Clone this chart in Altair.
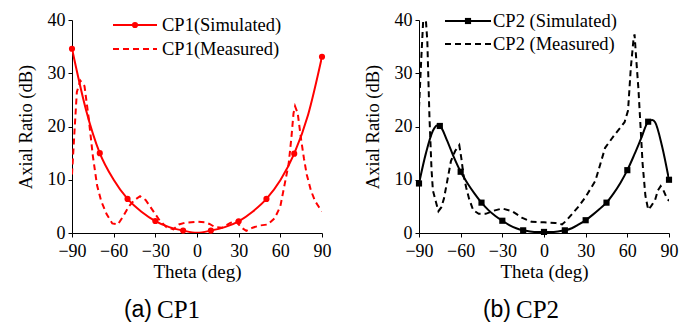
import altair as alt
import pandas as pd

# ---------------- data ----------------
# CP1 simulated (smooth solid line) and its circle markers
cp1_sim_theta = [-90, -80, -70, -60, -50, -40, -30, -20, -10, 0, 10, 20, 30, 40, 50, 60, 70, 80, 90]
cp1_sim_val = [34.6, 23.2, 15.0, 10.0, 6.4, 4.0, 2.25, 1.1, 0.45, 0.05, 0.45, 1.1, 2.2, 4.0, 6.4, 9.9, 14.9, 22.2, 33.1]
cp1_mk_theta = [-90, -70, -50, -30, -10, 10, 30, 50, 70, 90]
cp1_mk_val = [34.6, 15.0, 6.4, 2.25, 0.45, 0.45, 2.2, 6.4, 14.9, 33.1]

# CP1 measured (dashed)
cp1_meas_theta = [-90, -88, -86.5, -84, -81, -78, -75, -72, -69, -65, -61, -57, -53, -49, -45, -41, -37, -32,
                  -27, -22, -17, -13, -9, -4, 1, 6, 9, 13, 18, 24, 28, 32, 35.5, 40, 45, 51, 56, 60, 63, 66,
                  68, 69.5, 70.6, 72.5, 75, 77, 79, 82, 85, 88, 90]
cp1_meas_val = [11.0, 20.0, 26.5, 28.6, 27.6, 21.6, 14.5, 9.0, 6.0, 3.5, 1.8, 1.6, 3.2, 5.0, 6.2, 6.9, 6.2, 4.3,
                2.4, 1.1, 0.7, 1.6, 1.9, 2.0, 2.1, 2.0, 1.7, 1.1, 1.0, 1.9, 2.2, 1.0, 0.4, 1.0, 1.4, 1.6, 2.8, 5.0,
                9.0, 13.0, 18.0, 22.5, 23.8, 22.5, 17.5, 14.0, 11.0, 8.0, 6.0, 4.8, 4.1]

# CP2 simulated (smooth solid line) and its square markers
cp2_sim_theta = [-90, -85, -80, -77, -75, -70, -65, -60, -55, -50, -45, -40, -35, -30, -25, -20, -15, -10, -5,
                 0, 5, 10, 15, 20, 25, 30, 35, 40, 45, 50, 55, 60, 65, 70, 75, 78, 80, 85, 90]
cp2_sim_val = [9.3, 15.0, 19.2, 20.2, 20.1, 17.5, 14.3, 11.5, 9.3, 7.4, 5.7, 4.3, 3.2, 2.3, 1.5, 0.9, 0.5, 0.3,
               0.2, 0.2, 0.2, 0.3, 0.5, 0.9, 1.6, 2.4, 3.4, 4.5, 5.7, 7.4, 9.4, 11.8, 14.7, 17.8, 20.9, 21.2,
               20.8, 16.3, 10.0]
cp2_mk_theta = [-90, -75, -60, -45, -30, -15, 0, 15, 30, 45, 60, 75, 90]
cp2_mk_val = [9.3, 20.1, 11.5, 5.7, 2.3, 0.5, 0.2, 0.5, 2.4, 5.7, 11.8, 20.9, 10.0]

# CP2 measured (dashed)
cp2_meas_theta = [-90, -88.5, -87, -85, -84, -82.5, -81, -80, -78, -76, -74, -72, -69.5, -67, -64, -61, -59.5,
                  -58, -56, -54, -51, -47, -42, -36, -30, -23, -16, -9, 0, 8, 13, 16, 20, 25, 30, 37, 44, 51,
                  58, 60.5, 62.5, 64.5, 65.2, 66.5, 68, 69.5, 71, 73, 75, 77, 80, 82, 84, 86, 88, 90]
cp2_meas_val = [23.5, 32.0, 39.8, 39.8, 36.0, 22.0, 12.0, 8.0, 6.0, 4.1, 4.8, 6.5, 10.0, 13.5, 15.4, 16.5, 14.0,
                11.0, 8.5, 6.5, 4.3, 3.6, 3.6, 4.2, 4.6, 4.1, 2.9, 2.1, 2.0, 1.9, 1.6, 2.3, 3.5, 5.0, 6.8, 9.8,
                16.0, 18.5, 20.8, 23.0, 31.0, 36.5, 37.3, 32.3, 27.0, 20.0, 13.0, 7.0, 4.4, 5.0, 6.2, 8.0, 8.8,
                8.0, 6.8, 6.0]

x_ticks = list(range(-90, 91, 15))
y_ticks = list(range(0, 41, 5))

SERIF = "Liberation Serif"
SANS = "Liberation Sans"
W, H = 250, 213


def panel(color, shape, sim_t, sim_v, mk_t, mk_v, meas_t, meas_v, labels, leg, cap_letter, cap_name, cap_x):
    xs = alt.Scale(domain=[-90, 90], nice=False, zero=False)
    ys = alt.Scale(domain=[0, 40], nice=False)
    x_axis = alt.Axis(values=x_ticks, labelExpr="datum.value % 30 === 0 ? datum.label : ''",
                      title="Theta (deg)", grid=False, domainColor="black", tickColor="black",
                      tickSize=4, labelFont=SERIF, labelFontSize=18, labelColor="black",
                      titleFont=SERIF, titleFontSize=19, titleFontWeight="normal", titleColor="black",
                      labelPadding=5, titlePadding=2, labelFlush=False, labelOverlap=False)
    y_axis = alt.Axis(values=y_ticks, labelExpr="datum.value % 10 === 0 ? datum.label : ''",
                      title="Axial Ratio (dB)", grid=False, domainColor="black", tickColor="black",
                      tickSize=4, labelFont=SERIF, labelFontSize=18, labelColor="black",
                      titleFont=SERIF, titleFontSize=18.5, titleFontWeight="normal", titleColor="black",
                      labelPadding=3, titlePadding=12, labelFlush=False, labelOverlap=False)

    sim_df = pd.DataFrame({"theta": sim_t, "ar": sim_v})
    mk_df = pd.DataFrame({"theta": mk_t, "ar": mk_v})
    meas_df = pd.DataFrame({"theta": meas_t, "ar": meas_v})

    sim = alt.Chart(sim_df).mark_line(color=color, strokeWidth=2, interpolate="monotone", clip=True).encode(
        x=alt.X("theta:Q", scale=xs, axis=x_axis),
        y=alt.Y("ar:Q", scale=ys, axis=y_axis),
    )
    mk = alt.Chart(mk_df).mark_point(color=color, filled=True, opacity=1, shape=shape, size=38).encode(
        x=alt.X("theta:Q", scale=xs), y=alt.Y("ar:Q", scale=ys)
    )
    meas = alt.Chart(meas_df).mark_line(color=color, strokeWidth=2, strokeDash=[6, 4], clip=True).encode(
        x=alt.X("theta:Q", scale=xs), y=alt.Y("ar:Q", scale=ys)
    )

    one = pd.DataFrame({"k": [0]})
    lx0, lx1, lxm, ltx, ly1, ly2 = leg
    leg_solid = alt.Chart(one).mark_rule(color=color, strokeWidth=2).encode(
        x=alt.value(lx0), x2=alt.value(lx1), y=alt.value(ly1))
    leg_pt = alt.Chart(one).mark_point(color=color, filled=True, opacity=1, shape=shape, size=38).encode(
        x=alt.value(lxm), y=alt.value(ly1))
    leg_dash = alt.Chart(one).mark_rule(color=color, strokeWidth=2, strokeDash=[6, 4]).encode(
        x=alt.value(lx0), x2=alt.value(lx1), y=alt.value(ly2))
    leg_t1 = alt.Chart(one).mark_text(text=labels[0], font=SERIF, fontSize=18.5, color="black",
                                      align="left", baseline="middle").encode(
        x=alt.value(ltx), y=alt.value(ly1))
    leg_t2 = alt.Chart(one).mark_text(text=labels[1], font=SERIF, fontSize=18.5, color="black",
                                      align="left", baseline="middle").encode(
        x=alt.value(ltx), y=alt.value(ly2))

    cap_a = alt.Chart(one).mark_text(text=cap_letter, font=SANS, fontSize=23, color="black",
                                     align="right", baseline="middle").encode(
        x=alt.value(cap_x), y=alt.value(290))
    cap_b = alt.Chart(one).mark_text(text=cap_name, font=SERIF, fontSize=25, color="black",
                                     align="left", baseline="middle").encode(
        x=alt.value(cap_x + 5), y=alt.value(290))

    return alt.layer(meas, sim, mk, leg_solid, leg_pt, leg_dash, leg_t1, leg_t2, cap_a, cap_b).properties(
        width=W, height=H)


left = panel("#ff0000", "circle", cp1_sim_theta, cp1_sim_val, cp1_mk_theta, cp1_mk_val,
             cp1_meas_theta, cp1_meas_val, ["CP1(Simulated)", "CP1(Measured)"],
             (41, 85, 63, 90, 5, 29), "(a)", "CP1", 80)
right = panel("#000000", "square", cp2_sim_theta, cp2_sim_val, cp2_mk_theta, cp2_mk_val,
              cp2_meas_theta, cp2_meas_val, ["CP2 (Simulated)", "CP2 (Measured)"],
              (26, 72, 49, 74, 1, 24), "(b)", "CP2", 92)

chart = alt.hconcat(left, right, spacing=32).configure_view(stroke=None).properties(
    padding={"left": 8, "top": 3, "right": 5, "bottom": 0}, background="white")

chart.save("out.html", embed_options={"renderer": "svg", "actions": False})
